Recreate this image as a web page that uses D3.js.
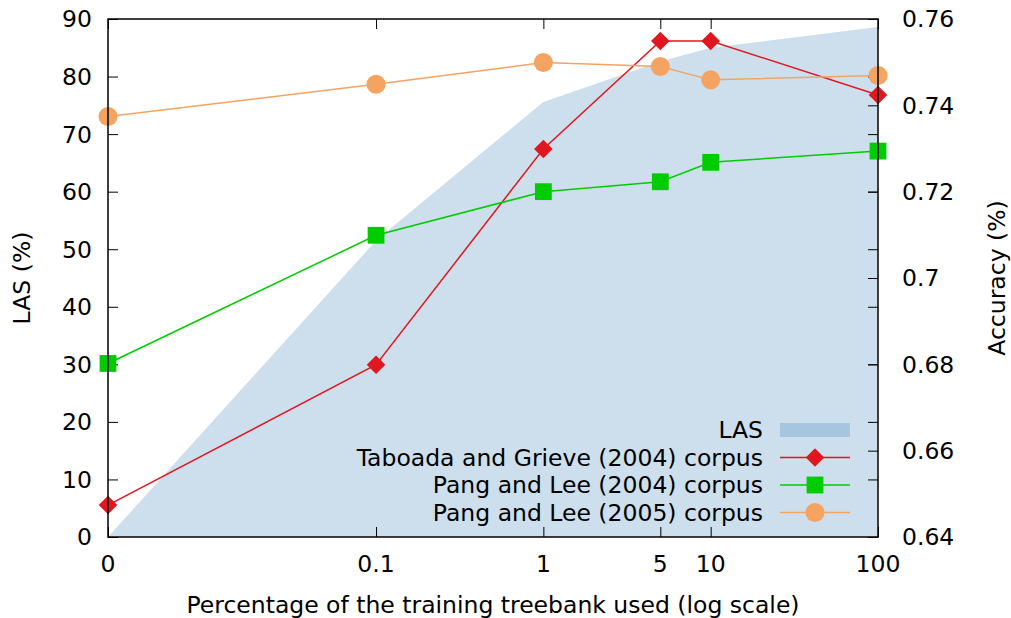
<!DOCTYPE html>
<meta charset="utf-8" />
<script src="https://d3js.org/d3.v7.min.js"></script>
<style>
  body { margin: 0; background: #fff; }
  svg text { font-family: "DejaVu Sans", sans-serif; font-size: 23.5px; fill: #000; }
  .tick line { stroke: #000; }
</style>
<div id="chart"></div>
<script>
  // x positions (percent of treebank); "0" is drawn at zeroAt on the log axis
  var xValues = [0, 0.1, 1, 5, 10, 100];
  var xLabels = ["0", "0.1", "1", "5", "10", "100"];
  var zeroAt = 0.0025;

  // LAS (left axis)
  var las = [0, 51.5, 75.6, 82.6, 85.0, 88.6];

  // accuracy (right axis)
  var taboada = [0.6474, 0.6799, 0.7299, 0.7549, 0.7549, 0.7424];
  var pang04 = [0.6802, 0.7099, 0.7200, 0.7223, 0.7268, 0.7294];
  var pang05 = [0.7374, 0.7449, 0.7499, 0.7490, 0.7459, 0.7469];

  var leftTicks = [0, 10, 20, 30, 40, 50, 60, 70, 80, 90];
  var rightTicks = [0.64, 0.66, 0.68, 0.7, 0.72, 0.74, 0.76];

  var width = 1011, height = 618;
  var mLeft = 108, mRight = 878, mTop = 19, mBottom = 537;
  var tick = 10;

  var svg = d3.select("#chart").append("svg")
    .attr("width", width)
    .attr("height", height);

  var xpos = function(v) { return v === 0 ? zeroAt : v; };
  var x = d3.scaleLog().domain([zeroAt, 100]).range([mLeft, mRight]);
  var y = d3.scaleLinear().domain([0, 90]).range([mBottom, mTop]);
  var y2 = d3.scaleLinear().domain([0.64, 0.76]).range([mBottom, mTop]);

  // LAS area
  var area = d3.area()
    .x(function(d, i) { return x(xpos(xValues[i])); })
    .y0(y(0))
    .y1(function(d) { return y(d); });
  svg.append("path")
    .datum(las)
    .attr("d", area)
    .attr("fill", "#cddfed");

  // axes, ticks pointing inward
  var fmt = function(d) { return String(d); };
  var noDomain = function(g) { g.select(".domain").remove(); };
  svg.append("g")
    .attr("transform", "translate(" + mLeft + ",0)")
    .call(d3.axisRight(y).tickValues(leftTicks).tickSize(tick).tickFormat(""))
    .call(noDomain);
  svg.append("g")
    .attr("transform", "translate(" + mRight + ",0)")
    .call(d3.axisLeft(y).tickValues(leftTicks).tickSize(tick).tickFormat(""))
    .call(noDomain);
  svg.append("g")
    .attr("transform", "translate(" + mRight + ",0)")
    .call(d3.axisLeft(y2).tickValues(rightTicks).tickSize(tick).tickFormat(""))
    .call(noDomain);
  svg.append("g")
    .attr("transform", "translate(0," + mBottom + ")")
    .call(d3.axisTop(x).tickValues(xValues.map(xpos)).tickSize(tick).tickFormat(""))
    .call(noDomain);
  svg.append("g")
    .attr("transform", "translate(0," + mTop + ")")
    .call(d3.axisBottom(x).tickValues(xValues.map(xpos)).tickSize(tick).tickFormat(""))
    .call(noDomain);

  // tick labels
  svg.selectAll(".ylab").data(leftTicks).enter().append("text")
    .attr("x", mLeft - 16)
    .attr("y", function(d) { return y(d); })
    .attr("dy", "0.36em")
    .attr("text-anchor", "end")
    .text(fmt);
  svg.selectAll(".y2lab").data(rightTicks).enter().append("text")
    .attr("x", mRight + 24)
    .attr("y", function(d) { return y2(d); })
    .attr("dy", "0.36em")
    .attr("text-anchor", "start")
    .text(fmt);
  svg.selectAll(".xlab").data(xValues).enter().append("text")
    .attr("x", function(d) { return x(xpos(d)); })
    .attr("y", 564)
    .attr("dy", "0.36em")
    .attr("text-anchor", "middle")
    .text(function(d, i) { return xLabels[i]; });

  // axis titles
  svg.append("text")
    .attr("x", (mLeft + mRight) / 2)
    .attr("y", 605)
    .attr("dy", "0.36em")
    .attr("text-anchor", "middle")
    .text("Percentage of the training treebank used (log scale)");
  svg.append("text")
    .attr("transform", "translate(22," + (mTop + mBottom) / 2 + ") rotate(-90)")
    .attr("dy", "0.36em")
    .attr("text-anchor", "middle")
    .text("LAS (%)");
  svg.append("text")
    .attr("transform", "translate(997," + (mTop + mBottom) / 2 + ") rotate(-90)")
    .attr("dy", "0.36em")
    .attr("text-anchor", "middle")
    .text("Accuracy (%)");

  // series lines
  var series = [
    { name: "Taboada and Grieve (2004) corpus", values: taboada, color: "#e0171f", shape: d3.symbolDiamond2, size: 220 },
    { name: "Pang and Lee (2004) corpus", values: pang04, color: "#00cc00", shape: d3.symbolSquare2, size: 360 },
    { name: "Pang and Lee (2005) corpus", values: pang05, color: "#f4a460", shape: d3.symbolCircle, size: 285 }
  ];
  var line = d3.line()
    .x(function(d, i) { return x(xpos(xValues[i])); })
    .y(function(d) { return y2(d); });

  series.forEach(function(s) {
    svg.append("path")
      .datum(s.values)
      .attr("d", line)
      .attr("fill", "none")
      .attr("stroke", s.color)
      .attr("stroke-width", 1.5);
  });
  series.forEach(function(s) {
    svg.selectAll(null).data(s.values).enter().append("path")
      .attr("transform", function(d, i) {
        return "translate(" + x(xpos(xValues[i])) + "," + y2(d) + ")";
      })
      .attr("d", d3.symbol().type(s.shape).size(s.size))
      .attr("fill", s.color);
  });

  // border
  svg.append("rect")
    .attr("x", mLeft)
    .attr("y", mTop)
    .attr("width", mRight - mLeft)
    .attr("height", mBottom - mTop)
    .attr("fill", "none")
    .attr("stroke", "#000")
    .attr("stroke-width", 1.5);

  // legend
  var legX = 763, legY = 430, legStep = 27.5;
  var leg = svg.append("g");
  leg.append("text")
    .attr("x", legX).attr("y", legY).attr("dy", "0.36em")
    .attr("text-anchor", "end").text("LAS");
  leg.append("rect")
    .attr("x", 780).attr("y", legY - 7).attr("width", 70).attr("height", 14)
    .attr("fill", "#a6c6e0");
  series.forEach(function(s, i) {
    var ly = legY + legStep * (i + 1);
    leg.append("text")
      .attr("x", legX).attr("y", ly).attr("dy", "0.36em")
      .attr("text-anchor", "end").text(s.name);
    leg.append("line")
      .attr("x1", 780).attr("x2", 850).attr("y1", ly).attr("y2", ly)
      .attr("stroke", s.color).attr("stroke-width", 1.5);
    leg.append("path")
      .attr("transform", "translate(815," + ly + ")")
      .attr("d", d3.symbol().type(s.shape).size(s.size))
      .attr("fill", s.color);
  });
</script>
